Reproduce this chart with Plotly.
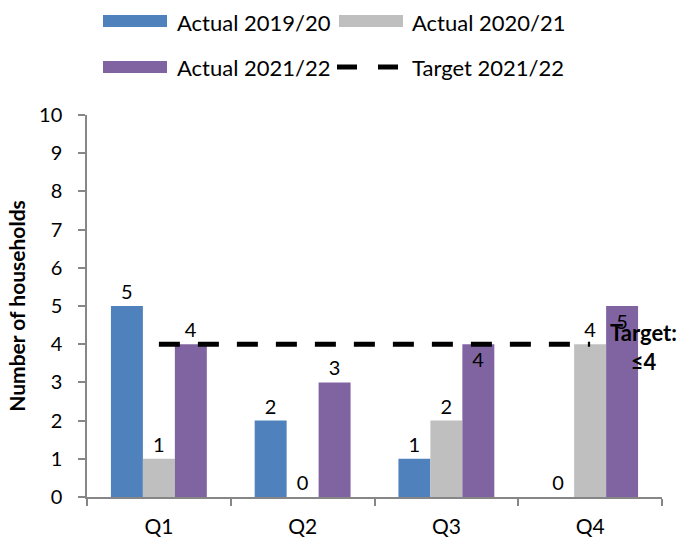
import plotly.graph_objects as go

categories = ["Q1", "Q2", "Q3", "Q4"]
actual_2019_20 = [5, 2, 1, 0]
actual_2020_21 = [1, 0, 2, 4]
actual_2021_22 = [4, 3, 4, 5]
target_2021_22 = [4, 4, 4, 4]
series_names = ["Actual 2019/20", "Actual 2020/21", "Actual 2021/22", "Target 2021/22"]
y_ticks = list(range(0, 11))
target_label = "Target:<br>≤4"
y_title = "Number of households"

colors = ["#4F81BD", "#BFBFBF", "#8064A2"]
FONT = "Lato"
fs = 20

# plot area in pixels
L, R, T, B = 87, 662, 115, 497
W, H = 681, 539
def px(x):
    return (x - L) / (R - L)
def py(y):
    return (B - y) / (B - T)

fig = go.Figure()
purple_pos = ["outside", "outside", "inside", "inside"]
for vals, name, col, pos in [
    (actual_2019_20, series_names[0], colors[0], ["outside"] * 4),
    (actual_2020_21, series_names[1], colors[1], ["outside"] * 4),
    (actual_2021_22, series_names[2], colors[2], purple_pos),
]:
    fig.add_trace(go.Bar(
        x=categories, y=vals, name=name, marker=dict(color=col, line=dict(width=0)),
        text=[str(v) for v in vals], textposition=pos, insidetextanchor="end",
        textfont=dict(family=FONT, size=fs, color="black"),
        insidetextfont=dict(family=FONT, size=fs, color="black"),
        outsidetextfont=dict(family=FONT, size=fs, color="black"),
        textangle=0, cliponaxis=False, showlegend=False,
    ))
fig.add_trace(go.Scatter(
    x=categories, y=target_2021_22, mode="lines", name=series_names[3],
    line=dict(color="black", width=5, dash="21px,18px"), showlegend=False,
))

shapes = []
annotations = []
# manual legend
leg = [
    (103, 21, "bar", colors[0], 175, series_names[0]),
    (339, 21, "bar", colors[1], 410, series_names[1]),
    (103, 67, "bar", colors[2], 175, series_names[2]),
    (337, 67, "line", "black", 410, series_names[3]),
]
for x0, yc, kind, col, tx, txt in leg:
    if kind == "bar":
        shapes.append(dict(type="rect", xref="paper", yref="paper",
                           x0=px(x0), x1=px(x0 + 64), y0=py(yc + 6), y1=py(yc - 6),
                           fillcolor=col, line=dict(width=0)))
    else:
        for a, b in [(x0, x0 + 20), (x0 + 41, x0 + 61)]:
            shapes.append(dict(type="line", xref="paper", yref="paper",
                               x0=px(a), x1=px(b), y0=py(yc), y1=py(yc),
                               line=dict(color=col, width=5)))
    annotations.append(dict(xref="paper", yref="paper", x=px(tx), y=py(yc + 1),
                            xanchor="left", yanchor="middle", text=txt, showarrow=False,
                            font=dict(family=FONT, size=22, color="black")))

annotations.append(dict(xref="paper", yref="paper", x=px(643), y=py(347),
                        xanchor="center", yanchor="middle",
                        text="<b>" + target_label.replace("<br>", "</b><br><b>") + "</b>",
                        showarrow=False, align="center",
                        font=dict(family=FONT, size=22, color="black")))

fig.update_layout(
    width=W, height=H,
    margin=dict(l=L, r=W - R, t=T, b=H - B, autoexpand=False),
    paper_bgcolor="white", plot_bgcolor="white",
    barmode="group", bargap=0.333, bargroupgap=0,
    font=dict(family=FONT, size=fs, color="black"),
    shapes=shapes, annotations=annotations,
    showlegend=False,
    uniformtext=dict(mode=False),
)
fig.update_xaxes(
    showline=True, linecolor="#868686", linewidth=1.5,
    ticks="outside", ticklen=7, tickcolor="#868686", tickwidth=1.5,
    tickson="boundaries", showgrid=False, ticklabelstandoff=10,
    tickfont=dict(family=FONT, size=21, color="black"),
)
fig.update_yaxes(
    range=[0, 10], tickvals=y_ticks, showline=True, linecolor="#868686", linewidth=1.5,
    ticks="outside", ticklen=7, tickcolor="#868686", tickwidth=1.5,
    showgrid=False, zeroline=False, ticklabelstandoff=12,
    tickfont=dict(family=FONT, size=fs, color="black"),
    title=dict(text="<b>" + y_title + "</b>", standoff=8,
               font=dict(family=FONT, size=21, color="black")),
)

fig.write_html("out.html")
